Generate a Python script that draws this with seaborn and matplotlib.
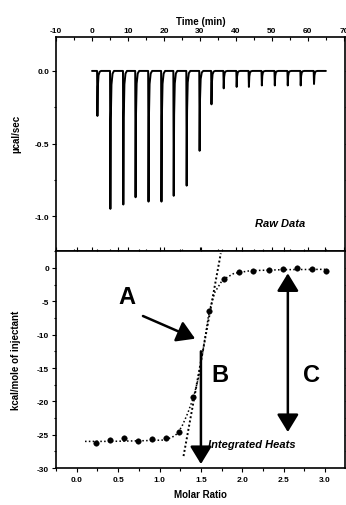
import numpy as np
import pandas as pd
import matplotlib
matplotlib.use("Agg")
import matplotlib.pyplot as plt
from matplotlib.ticker import MultipleLocator
import seaborn as sns

# ---------------- data ----------------
inj_time = [1.4, 5.0, 8.6, 12.0, 15.6, 19.2, 22.6, 26.2, 29.8, 33.1,
            36.5, 40.1, 43.5, 47.1, 50.7, 54.3, 57.9, 61.6]
inj_peak = [-0.31, -0.95, -0.92, -0.87, -0.90, -0.90, -0.86, -0.79, -0.55, -0.23,
            -0.12, -0.11, -0.11, -0.10, -0.10, -0.10, -0.10, -0.09]
baseline_start = 0.0
baseline_end = 65.0

molar_ratio = [0.23, 0.40, 0.57, 0.74, 0.91, 1.08, 1.24, 1.41, 1.60, 1.78,
               1.96, 2.13, 2.32, 2.49, 2.66, 2.84, 3.01]
heat = [-26.2, -25.8, -25.5, -26.0, -25.6, -25.5, -24.6, -19.4, -6.5, -1.7,
        -0.6, -0.4, -0.3, -0.1, 0.0, -0.2, -0.4]

fit_x = [0.10, 0.40, 0.80, 1.05, 1.15, 1.22, 1.28, 1.34, 1.41, 1.47, 1.53, 1.60,
         1.67, 1.76, 1.90, 2.10, 2.50, 3.00]
fit_y = [-26.0, -26.0, -25.9, -25.8, -25.4, -24.8, -23.5, -21.8, -19.4, -16.5, -12.0, -6.5,
         -3.6, -1.8, -0.8, -0.4, -0.25, -0.2]

tangent_x = [1.29, 1.74]
tangent_y = [-28.2, 2.2]

time_ticks = [-10, 0, 10, 20, 30, 40, 50, 60, 70]
raw_ticks = [0.0, -0.5, -1.0]
raw_ticklabels = ["0.0", "-0.5", "-1.0"]
ratio_ticks = [0.0, 0.5, 1.0, 1.5, 2.0, 2.5, 3.0]
ratio_ticklabels = ["0.0", "0.5", "1.0", "1.5", "2.0", "2.5", "3.0"]
heat_ticks = [0, -5, -10, -15, -20, -25, -30]
heat_ticklabels = ["0", "-5", "-10", "-15", "-20", "-25", "-30"]

# ---------------- build raw trace ----------------
shape_dt = [0.0, 0.10, 0.22, 0.40, 0.70, 1.1]
shape_fr = [0.0, 1.0, 0.35, 0.10, 0.02, 0.0]
tt, yy = [baseline_start], [0.0]
for t, p in zip(inj_time, inj_peak):
    for dt, fr in zip(shape_dt, shape_fr):
        tt.append(t + dt)
        yy.append(p * fr)
tt.append(baseline_end)
yy.append(0.0)
raw_df = pd.DataFrame({"time": tt, "power": yy})
pts_df = pd.DataFrame({"ratio": molar_ratio, "heat": heat})
fit_df = pd.DataFrame({"ratio": fit_x, "heat": fit_y})
tan_df = pd.DataFrame({"ratio": tangent_x, "heat": tangent_y})

# ---------------- figure ----------------
sns.set_theme(style="ticks")
plt.rcParams["font.family"] = ["Liberation Sans", "DejaVu Sans"]
plt.rcParams["axes.unicode_minus"] = False
for key in ("text.color", "axes.labelcolor", "xtick.color", "ytick.color", "axes.edgecolor"):
    plt.rcParams[key] = "black"

fig = plt.figure(figsize=(3.46, 5.06), dpi=100)
ax1 = fig.add_axes([0.162, 0.502, 0.835, 0.423])
ax2 = fig.add_axes([0.162, 0.073, 0.835, 0.429])

tick_fs = 6
lab_fs = 7

# top panel
sns.lineplot(data=raw_df, x="time", y="power", ax=ax1, color="black",
             linewidth=1.4, sort=False, estimator=None)
ax1.set_xlim(-10, 70.3)
ax1.set_ylim(-1.24, 0.234)
ax1.xaxis.tick_top()
ax1.xaxis.set_label_position("top")
ax1.set_xticks(time_ticks)
ax1.set_xticklabels([str(v) for v in time_ticks], fontsize=tick_fs, fontweight="bold")
ax1.xaxis.set_minor_locator(MultipleLocator(5))
ax1.set_yticks(raw_ticks)
ax1.set_yticklabels(raw_ticklabels, fontsize=tick_fs, fontweight="bold")
ax1.yaxis.set_minor_locator(MultipleLocator(0.25))
ax1.set_xlabel("Time (min)", fontsize=lab_fs, fontweight="bold", labelpad=2)
ax1.set_ylabel("\u00b5cal/sec", fontsize=lab_fs, fontweight="bold")
ax1.yaxis.set_label_coords(-0.12, 0.55)
ax1.tick_params(axis="x", which="both", direction="in", top=True, bottom=True, pad=2)
ax1.tick_params(axis="y", which="both", direction="out", left=True, right=True, pad=2)
ax1.tick_params(which="major", length=3, width=0.8)
ax1.tick_params(which="minor", length=1.8, width=0.8)
ax1.text(52.4, -1.05, "Raw Data", fontsize=8, fontweight="bold", style="italic",
         ha="center", va="center")

# bottom panel
sns.lineplot(data=fit_df, x="ratio", y="heat", ax=ax2, color="black",
             linewidth=1.1, linestyle=(0, (1, 1.5)), sort=False, estimator=None)
sns.lineplot(data=tan_df, x="ratio", y="heat", ax=ax2, color="black",
             linewidth=1.4, linestyle=(0, (1, 1.2)), sort=False, estimator=None)
sns.scatterplot(data=pts_df, x="ratio", y="heat", ax=ax2, color="black",
                s=16, edgecolor="black", linewidth=0.3, zorder=5)
ax2.set_xlim(-0.25, 3.24)
ax2.set_ylim(-30, 2.55)
ax2.set_xticks(ratio_ticks)
ax2.set_xticklabels(ratio_ticklabels, fontsize=tick_fs, fontweight="bold")
ax2.xaxis.set_minor_locator(MultipleLocator(0.25))
ax2.set_yticks(heat_ticks)
ax2.set_yticklabels(heat_ticklabels, fontsize=tick_fs, fontweight="bold")
ax2.yaxis.set_minor_locator(MultipleLocator(2.5))
ax2.set_xlabel("Molar Ratio", fontsize=lab_fs, fontweight="bold", labelpad=4)
ax2.set_ylabel("kcal/mole of injectant", fontsize=lab_fs, fontweight="bold")
ax2.yaxis.set_label_coords(-0.12, 0.5)
ax2.tick_params(axis="x", which="both", direction="out", top=True, bottom=True, pad=3)
ax2.tick_params(axis="y", which="both", direction="out", left=True, right=True, pad=2)
ax2.tick_params(which="major", length=3, width=0.8)
ax2.tick_params(which="minor", length=1.8, width=0.8)

for ax in (ax1, ax2):
    for sp in ax.spines.values():
        sp.set_linewidth(1.2)

arrow_kw = dict(arrowstyle="-|>,head_length=0.9,head_width=0.55", color="black",
                linewidth=1.8, shrinkA=0, shrinkB=0)
ax2.annotate("", xy=(1.43, -10.6), xytext=(0.80, -7.2), arrowprops=arrow_kw)
ax2.annotate("", xy=(1.50, -29.4), xytext=(1.50, -12.5), arrowprops=arrow_kw)
ax2.annotate("", xy=(2.55, -0.8), xytext=(2.55, -24.6),
             arrowprops=dict(arrowstyle="<|-|>,head_length=0.9,head_width=0.55",
                             color="black", linewidth=1.8, shrinkA=0, shrinkB=0))
big = dict(fontsize=17, fontweight="bold", ha="center", va="center")
ax2.text(0.61, -4.3, "A", **big)
ax2.text(1.73, -15.9, "B", **big)
ax2.text(2.84, -15.9, "C", **big)
ax2.text(1.59, -26.4, "Integrated Heats", fontsize=8, fontweight="bold",
         style="italic", ha="left", va="center")

fig.savefig("out.png", dpi=100)
